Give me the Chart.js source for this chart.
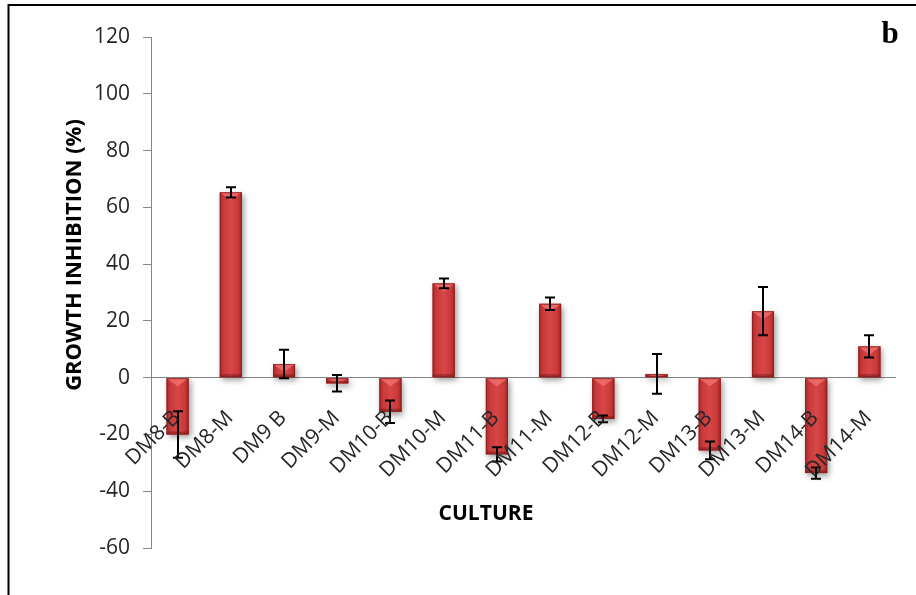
<!DOCTYPE html>
<html>
<head>
<meta charset="utf-8">
<script src="https://cdn.jsdelivr.net/npm/chart.js@4/dist/chart.umd.min.js"></script>
<style>
  html, body { margin: 0; padding: 0; background: #ffffff; }
  #wrap { width: 916px; height: 595px; position: relative; }
</style>
</head>
<body>
<div id="wrap"><canvas id="chart" width="916" height="595"></canvas></div>
<script>
// Culture extracts and their growth inhibition (%) with standard deviation
const cultures = ['DM8-B', 'DM8-M', 'DM9 B', 'DM9-M', 'DM10-B', 'DM10-M', 'DM11-B',
                  'DM11-M', 'DM12-B', 'DM12-M', 'DM13-B', 'DM13-M', 'DM14-B', 'DM14-M'];
const inhibition = [-20, 65.3, 4.8, -2, -12, 33.2, -27, 26, -14.5, 1.3, -25.6, 23.4, -33.6, 11];
const errors     = [8.2, 1.8, 5, 2.9, 4, 1.7, 2.5, 2.2, 1.2, 7, 3.1, 8.5, 2, 3.9];
const yMin = -60, yMax = 120, yStep = 20;

const textColor = '#262626';
const axisColor = '#868686';
const FONT = '"Open Sans", "Liberation Sans", sans-serif';

// Page frame and white background
const framePlugin = {
  id: 'frame',
  beforeDraw(chart) {
    const ctx = chart.ctx;
    ctx.save();
    ctx.fillStyle = '#ffffff';
    ctx.fillRect(0, 0, chart.width, chart.height);
    ctx.strokeStyle = '#000000';
    ctx.lineWidth = 2;
    ctx.beginPath();
    ctx.moveTo(916, 5);
    ctx.lineTo(8.5, 5);
    ctx.lineTo(8.5, 595);
    ctx.stroke();
    ctx.restore();
  }
};

// Soft drop shadow under the bars, then bevel shading and error bars on top
const barStylePlugin = {
  id: 'barStyle',
  beforeDatasetsDraw(chart) {
    const ctx = chart.ctx;
    ctx.save();
    ctx.shadowColor = 'rgba(0,0,0,0.4)';
    ctx.shadowBlur = 6;
    ctx.shadowOffsetX = 2;
    ctx.shadowOffsetY = 3;
  },
  afterDatasetsDraw(chart) {
    const ctx = chart.ctx;
    ctx.restore();
    const meta = chart.getDatasetMeta(0);
    ctx.save();
    meta.data.forEach((bar) => {
      const w = bar.width;
      const left = bar.x - w / 2, right = bar.x + w / 2;
      const top = Math.min(bar.y, bar.base), bottom = Math.max(bar.y, bar.base);
      const h = bottom - top;
      // body: darker sides, lighter middle
      const g = ctx.createLinearGradient(left, 0, right, 0);
      g.addColorStop(0, '#a92a2a');
      g.addColorStop(0.18, '#c93a3a');
      g.addColorStop(0.5, '#d84646');
      g.addColorStop(0.82, '#c93a3a');
      g.addColorStop(1, '#a02626');
      ctx.fillStyle = g;
      ctx.fillRect(left, top, w, h);
      // bevelled top face
      const depth = Math.min(8, h);
      ctx.fillStyle = 'rgba(240,110,110,0.85)';
      ctx.beginPath();
      ctx.moveTo(left, top);
      ctx.lineTo(right, top);
      ctx.lineTo(bar.x, top + depth);
      ctx.closePath();
      ctx.fill();
      // darker lower edge
      const lb = Math.min(3, h / 2);
      ctx.fillStyle = 'rgba(110,20,20,0.45)';
      ctx.fillRect(left, bottom - lb, w, lb);
      ctx.strokeStyle = 'rgba(140,30,30,0.8)';
      ctx.lineWidth = 1;
      ctx.strokeRect(left + 0.5, top + 0.5, w - 1, Math.max(h - 1, 0));
    });
    // error bars
    const xs = chart.scales.x, ys = chart.scales.y;
    ctx.strokeStyle = '#000000';
    ctx.lineWidth = 2;
    inhibition.forEach((v, i) => {
      const x = Math.round(xs.getPixelForValue(i));
      const y1 = ys.getPixelForValue(v + errors[i]);
      const y2 = ys.getPixelForValue(v - errors[i]);
      ctx.beginPath();
      ctx.moveTo(x, y1); ctx.lineTo(x, y2);
      ctx.moveTo(x - 5, y1); ctx.lineTo(x + 5, y1);
      ctx.moveTo(x - 5, y2); ctx.lineTo(x + 5, y2);
      ctx.stroke();
    });
    ctx.restore();
  }
};

// Category labels hang below the zero line, axis titles and panel letter
const labelPlugin = {
  id: 'labels',
  afterDraw(chart) {
    const ctx = chart.ctx;
    const xs = chart.scales.x, ys = chart.scales.y;
    const y0 = ys.getPixelForValue(0);
    ctx.save();
    ctx.fillStyle = textColor;
    ctx.font = '21px ' + FONT;
    ctx.textAlign = 'right';
    ctx.textBaseline = 'middle';
    cultures.forEach((name, i) => {
      const x = xs.getPixelForValue(i);
      ctx.save();
      ctx.translate(x - 1, y0 + 37);
      ctx.rotate(-Math.PI / 4);
      ctx.fillText(name, 0, 0);
      ctx.restore();
    });
    ctx.fillStyle = '#000000';
    ctx.font = 'bold 21px ' + FONT;
    ctx.textAlign = 'center';
    ctx.fillText('CULTURE', 486, 514);
    ctx.save();
    ctx.translate(75, 255);
    ctx.rotate(-Math.PI / 2);
    ctx.font = 'bold 22px ' + FONT;
    ctx.fillText('GROWTH INHIBITION (%)', 0, 0);
    ctx.restore();
    ctx.font = 'bold 31px "Liberation Serif", "DejaVu Serif", serif';
    ctx.textAlign = 'center';
    ctx.textBaseline = 'alphabetic';
    ctx.fillText('b', 890, 43);
    ctx.restore();
  }
};

new Chart(document.getElementById('chart'), {
  type: 'bar',
  data: {
    labels: cultures,
    datasets: [{
      data: inhibition,
      backgroundColor: '#c63a3a',
      borderWidth: 0,
      barPercentage: 0.414,
      categoryPercentage: 1.0
    }]
  },
  options: {
    responsive: false,
    animation: false,
    devicePixelRatio: 1,
    layout: { padding: { top: 37, bottom: 47, left: 0, right: 20 } },
    plugins: { legend: { display: false }, tooltip: { enabled: false } },
    scales: {
      x: { display: false },
      y: {
        min: yMin,
        max: yMax,
        afterFit(scale) { scale.width = 151; },
        ticks: {
          stepSize: yStep,
          color: textColor,
          font: { family: FONT, size: 21 },
          padding: 13
        },
        border: { display: true, color: axisColor, width: 1 },
        grid: {
          drawOnChartArea: true,
          color: (c) => (c.tick && c.tick.value === 0 ? axisColor : 'rgba(0,0,0,0)'),
          tickColor: axisColor,
          tickLength: 8,
          lineWidth: 1
        }
      }
    }
  },
  plugins: [framePlugin, barStylePlugin, labelPlugin]
});
</script>
</body>
</html>
